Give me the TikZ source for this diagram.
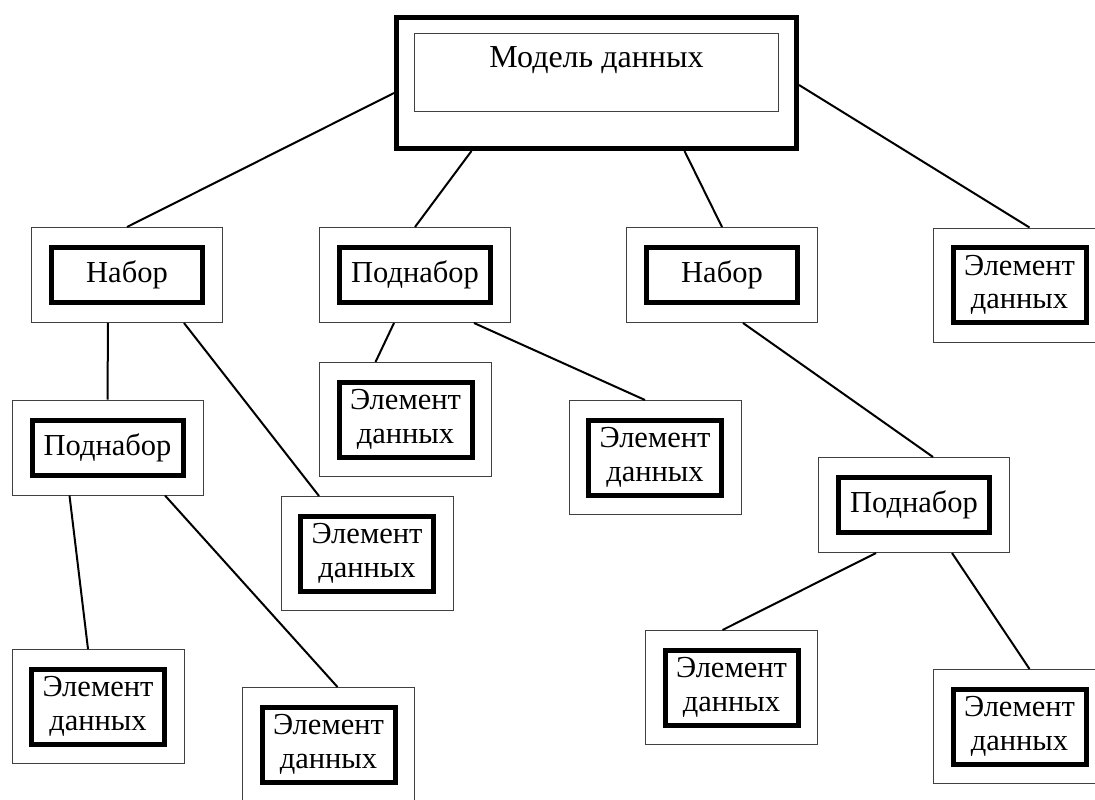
\documentclass[tikz,border=0pt]{standalone}
\usepackage{fontspec}
\setmainfont{Liberation Serif}
\usepackage{tikz}
\tikzstyle{outerset} = [rectangle, minimum width=191pt, minimum height=95pt, inner sep=0pt, draw=black!75, line width=1pt]
\tikzstyle{outerel} = [rectangle, minimum width=172pt, minimum height=114pt, inner sep=0pt, draw=black!75, line width=1pt]
\tikzstyle{innerset} = [rectangle, minimum width=151pt, minimum height=55pt, inner sep=0pt, text centered, draw=black, line width=5pt, font=\fontsize{30.5}{34}\selectfont]
\tikzstyle{innerel} = [rectangle, minimum width=133pt, minimum height=75pt, inner sep=0pt, align=center, draw=black, line width=5pt, font=\fontsize{30.5}{33.5}\selectfont]
\tikzstyle{outermodel} = [rectangle, minimum width=400pt, minimum height=131pt, inner sep=0pt, draw=black, line width=5pt]
\tikzstyle{innermodel} = [rectangle, minimum width=364pt, text height=34pt, text depth=43pt, inner sep=0pt, draw=black!75, line width=1pt, font=\fontsize{32}{36}\selectfont]
\tikzstyle{link} = [line width=2pt]

\begin{document}
\begin{tikzpicture} [x=1pt, y=-1pt]
        \useasboundingbox (0,0) rectangle (1095,800);
        % top
        \node (model) [outermodel] at (596.5,83) {};
        \node (modelin) [innermodel] at (596.5,72.5) {Модель данных};
        % second row
        \node (nab1) [outerset] at (127,275) {};
        \node (nab1in) [innerset] at (nab1) {Набор};
        \node (pod1) [outerset] at (415,275) {};
        \node (pod1in) [innerset] at (pod1) {Поднабор};
        \node (nab2) [outerset] at (722,275) {};
        \node (nab2in) [innerset] at (nab2) {Набор};
        \node (el1) [outerel] at (1019.5,285) {};
        \node (el1in) [innerel] at (el1) {Элемент\\данных};
        % third row
        \node (pod2) [outerset] at (107.5,447.5) {};
        \node (pod2in) [innerset] at (pod2) {Поднабор};
        \node (el2) [outerel] at (405.5,419.5) {};
        \node (el2in) [innerel] at (el2) {Элемент\\данных};
        \node (el4) [outerel] at (655,457.5) {};
        \node (el4in) [innerel] at (el4) {Элемент\\данных};
        \node (el3) [outerel] at (367,553.5) {};
        \node (el3in) [innerel] at (el3) {Элемент\\данных};
        \node (pod3) [outerset] at (914,505) {};
        \node (pod3in) [innerset] at (pod3) {Поднабор};
        % bottom
        \node (el5) [outerel] at (98,706.5) {};
        \node (el5in) [innerel] at (el5) {Элемент\\данных};
        \node (el6) [outerel] at (328.5,744.5) {};
        \node (el6in) [innerel] at (el6) {Элемент\\данных};
        \node (el7) [outerel] at (731.5,687.5) {};
        \node (el7in) [innerel] at (el7) {Элемент\\данных};
        \node (el8) [outerel] at (1019.5,726.5) {};
        \node (el8in) [innerel] at (el8) {Элемент\\данных};

        \draw[link] ([yshift=-10pt]model.west) -- (nab1.north);
        \draw[link] ([xshift=-125pt]model.south) -- (pod1.north);
        \draw[link] ([xshift=88pt]model.south) -- (nab2.north);
        \draw[link] ([yshift=-2pt]model.east) -- ([xshift=10pt]el1.north);
        \draw[link] ([xshift=-19pt]nab1.south) -- (pod2.north);
        \draw[link] ([xshift=57pt]nab1.south) -- ([xshift=-48pt]el3.north);
        \draw[link] ([xshift=-21pt]pod1.south) -- ([xshift=-30pt]el2.north);
        \draw[link] ([xshift=59pt]pod1.south) -- ([xshift=-10pt]el4.north);
        \draw[link] ([xshift=21pt]nab2.south) -- ([xshift=19pt]pod3.north);
        \draw[link] ([xshift=-38pt]pod2.south) -- ([xshift=-10pt]el5.north);
        \draw[link] ([xshift=57.5pt]pod2.south) -- ([xshift=9pt]el6.north);
        \draw[link] ([xshift=-38pt]pod3.south) -- ([xshift=-9pt]el7.north);
        \draw[link] ([xshift=38pt]pod3.south) -- ([xshift=10pt]el8.north);
    \end{tikzpicture}
\end{document}
